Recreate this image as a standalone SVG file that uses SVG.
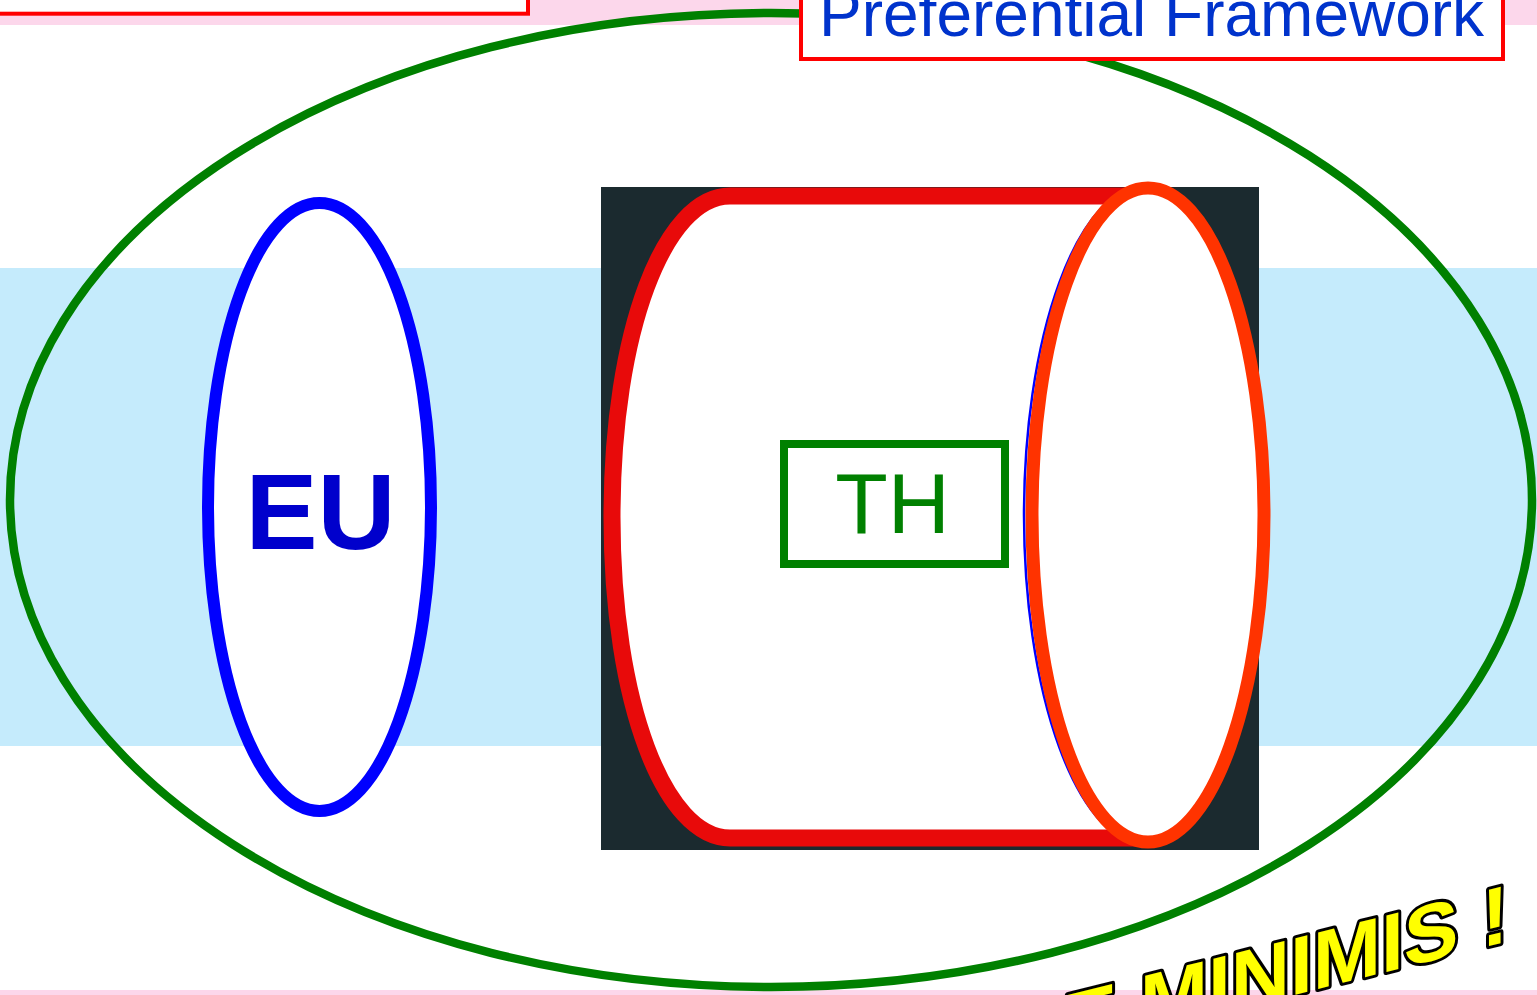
<svg xmlns="http://www.w3.org/2000/svg" width="1537" height="995" viewBox="0 0 1537 995">
  <style>
    .band-pink { fill: #FCD7EB; }
    .band-blue { fill: #C5EBFC; }
    .redbox { fill: #FFFFFF; stroke: #FF0000; stroke-width: 4; }
    .lbl { font-family: "Liberation Sans", Arial, sans-serif; }
  </style>
  <rect x="0" y="0" width="1537" height="995" fill="#FFFFFF"/>
  <rect class="band-pink" x="0" y="0" width="1537" height="25"/>
  <rect class="band-blue" x="0" y="268" width="1537" height="478"/>
  <rect class="band-pink" x="0" y="990" width="1537" height="5"/>

  <g id="preferential-framework-area">
    <ellipse cx="771" cy="500" rx="761" ry="487" fill="none" stroke="#008000" stroke-width="8.5"/>
  </g>

  <g id="eu">
    <ellipse cx="319.5" cy="507" rx="111.5" ry="304" fill="#FFFFFF" stroke="#0000FF" stroke-width="12"/>
    <text class="lbl" x="320.5" y="549" font-size="108" font-weight="bold" fill="#0000CC" text-anchor="middle">EU</text>
  </g>

  <g id="th-cylinder">
    <rect x="601" y="187" width="658" height="663" fill="#1B2A2F"/>
    <path d="M 1146,196 L 730,196 C 665,196 612,330 612,517 C 612,704 665,838 730,838 L 1146,838 Z" fill="#FFFFFF" stroke="#E80A0A" stroke-width="17" stroke-linejoin="round"/>
    <ellipse cx="1145" cy="515" rx="121" ry="329" fill="#FFFFFF" stroke="#0000FF" stroke-width="2.5"/>
    <ellipse cx="1148" cy="515" rx="116" ry="327" fill="#FFFFFF" stroke="#FF3300" stroke-width="13"/>
  </g>

  <g id="th">
    <rect x="784" y="444" width="221" height="120" fill="#FFFFFF" stroke="#008000" stroke-width="8"/>
    <text class="lbl" x="892.5" y="533" font-size="86" fill="#008000" text-anchor="middle">TH</text>
  </g>

  <g id="top-left-box">
    <rect class="redbox" x="-10" y="-50" width="538" height="63.7"/>
  </g>

  <g id="preferential-framework">
    <rect class="redbox" x="801" y="-40" width="702" height="99"/>
    <text class="lbl" x="819" y="35.5" font-size="64" fill="#0033CC">Preferential Framework</text>
  </g>

  <g id="connectors"></g>

  <g id="de-minimis">
    <text class="lbl" transform="skewY(-14.04)" x="1003" y="1318.5" font-size="82" font-weight="bold" fill="#FFFF00" stroke="#000000" stroke-width="6" stroke-linejoin="round" paint-order="stroke">DE MINIMIS !</text>
  </g>
</svg>
